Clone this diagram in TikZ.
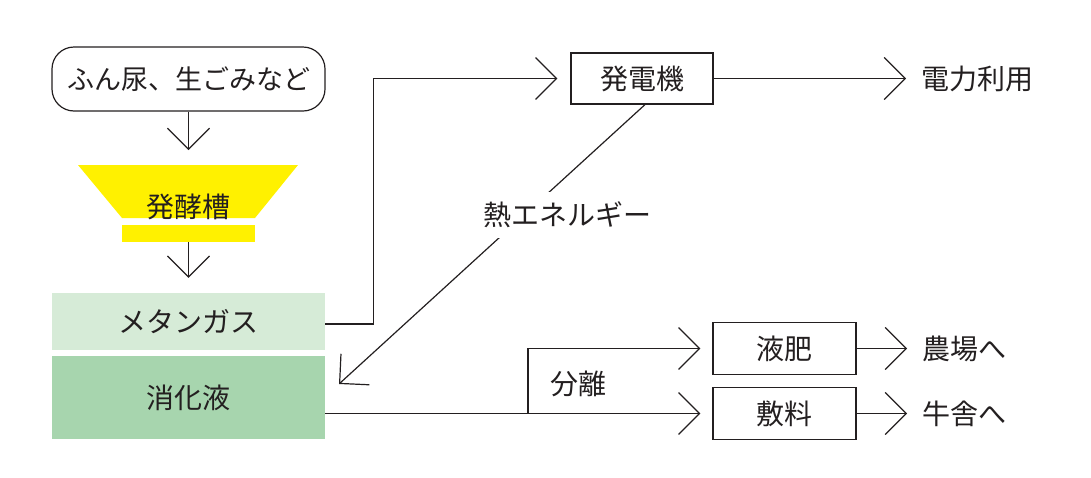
\documentclass[tikz,border=0pt]{standalone}
\usepackage{fontspec}
\newfontfamily\jp{Noto Sans CJK JP}
\usetikzlibrary{arrows.meta}
\definecolor{ink}{HTML}{231F20}
\definecolor{tankyellow}{HTML}{FFF100}
\definecolor{lightg}{HTML}{D6EBD7}
\definecolor{darkg}{HTML}{A7D5AE}
\tikzset{
  line/.style={draw=ink, line width=1.2pt},
  arr/.style={line, -{Straight Barb[length=21pt,width=42pt,line width=1.2pt]}},
  txt/.style={inner sep=0pt, text=ink, font=\jp\fontsize{28}{30}\selectfont},
  box/.style={txt, draw=ink, line width=1.2pt},
}
\begin{document}
\begin{tikzpicture}[x=1pt,y=-1pt]
\useasboundingbox (0,0) rectangle (1091,477);
% source
\node[box, rounded corners=22pt, minimum width=273pt, minimum height=64pt,
      font=\jp\fontsize{27}{30}\selectfont] (src) at (188.5,79) {ふん尿、生ごみなど};
% tank
\fill[tankyellow] (78,165) -- (298,165) -- (255,218) -- (122,218) -- cycle;
\node[fill=tankyellow, minimum width=133pt, minimum height=17pt, inner sep=0pt] (bar) at (188.5,233.5) {};
\node[txt] (tank) at (188.5,207) {発酵槽};
\coordinate (tanktop) at (188.5,150);
\draw[arr] (src.south) -- (tanktop);
% methane and digestate
\node[txt, fill=lightg, minimum width=273pt, minimum height=57pt] (meth) at (188.5,321.5) {メタンガス};
\node[txt, fill=darkg, minimum width=273pt, minimum height=83pt] (dig) at (188.5,397.5) {消化液};
\draw[arr] (bar.south) -- ([yshift=15pt]meth.north);
% generator
\node[box, minimum width=142pt, minimum height=51pt] (gen) at (642,78.5) {発電機};
\draw[arr, shorten >=13pt] ([yshift=-2.5pt]meth.east) -- ++(48,0) |- (gen.west);
\node[txt, anchor=west] (pow) at (921,78.5) {電力利用};
\draw[arr] (gen.east) -- ([xshift=-15pt]pow.west);
% heat
\coordinate (heattip) at (339,384);
\draw[arr] ([xshift=3pt]gen.south) -- (heattip);
\node[txt, fill=white, inner xsep=4pt, inner ysep=10pt] (heat) at (567,215) {熱エネルギー};
% separation
\node[box, minimum width=143pt, minimum height=52pt] (fert) at (784.5,348.5) {液肥};
\node[box, minimum width=143pt, minimum height=52pt] (bed) at (784.5,413.5) {敷料};
\coordinate (split) at (528,413.5);
\draw[arr, shorten >=12pt] ([yshift=-16pt]dig.east) -- (bed.west);
\draw[arr, shorten >=12pt] (split) |- (fert.west);
\node[txt] (sep) at (578,384) {分離};
% destinations
\node[txt, anchor=west] (farm) at (922,348.5) {農場へ};
\node[txt, anchor=west] (barn) at (922,413.5) {牛舎へ};
\draw[arr] (fert.east) -- ([xshift=-15pt]farm.west);
\draw[arr] (bed.east) -- ([xshift=-15pt]barn.west);
\end{tikzpicture}
\end{document}
